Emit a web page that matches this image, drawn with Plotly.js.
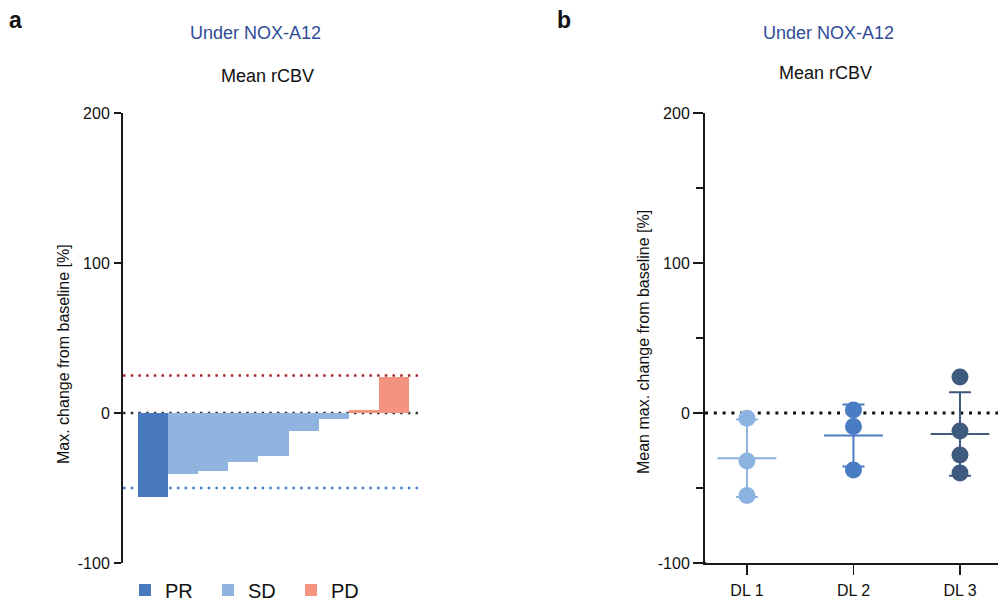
<!DOCTYPE html>
<html>
<head>
<meta charset="utf-8">
<script src="https://cdn.plot.ly/plotly-3.0.1.min.js"></script>
<style>
  html, body { margin: 0; padding: 0; background: #fff; }
  #chart { width: 998px; height: 605px; }
</style>
</head>
<body>
<div id="chart"></div>
<script>
// ---- Data: panel a (waterfall of max. change from baseline, %) ----
const barResponse = ['PR', 'SD', 'SD', 'SD', 'SD', 'SD', 'SD', 'PD', 'PD'];
const barValues = [-55.8, -40.7, -38.5, -32.4, -28.7, -12.0, -4.0, 2.2, 24.2];
const responseGroups = ['PR', 'SD', 'PD'];
const progressionThreshold = 25;
const responseThreshold = -50;

// ---- Data: panel b (per dose level) ----
const doseLevels = ['DL 1', 'DL 2', 'DL 3'];
const dl1Values = [-3.5, -32.0, -55.0];
const dl2Values = [2.0, -9.0, -38.0];
const dl3Values = [24.0, -12.0, -28.0, -40.0];

// ---- Tick labels ----
const yTickVals = [-100, 0, 100, 200];
const yTickText = ['-100', '0', '100', '200'];

// ---- Styles ----
const FONT = 'Liberation Sans, Arial, Helvetica, sans-serif';
const responseColors = { PR: '#4878BE', SD: '#8FB4E0', PD: '#F4937F' };
const doseColors = ['#8DB3E2', '#4A7CC4', '#3F5A7E'];
const W = 998, H = 605;
const px = v => v / W;
const py = v => 1 - v / H;

const traces = [];

// Panel a bars, one trace per response group
responseGroups.forEach(g => {
  const xs = [], ys = [];
  barResponse.forEach((r, i) => {
    if (r === g) { xs.push(i + 1); ys.push(barValues[i]); }
  });
  traces.push({
    type: 'bar', x: xs, y: ys, name: g,
    xaxis: 'x', yaxis: 'y',
    width: 1,
    marker: { color: responseColors[g], line: { width: 0 } },
    hoverinfo: 'x+y'
  });
});

// Panel b
const groups = [dl1Values, dl2Values, dl3Values];
const mean = a => a.reduce((s, v) => s + v, 0) / a.length;
const sd = a => { const m = mean(a); return Math.sqrt(a.reduce((s, v) => s + (v - m) * (v - m), 0) / (a.length - 1)); };

groups.forEach((vals, i) => {
  traces.push({
    type: 'scatter', mode: 'markers',
    x: [doseLevels[i]], y: [mean(vals)],
    xaxis: 'x2', yaxis: 'y2', showlegend: false,
    marker: { symbol: 'line-ew', size: 42, color: doseColors[i], line: { color: doseColors[i], width: 2 } },
    error_y: { type: 'data', array: [sd(vals)], visible: true, color: doseColors[i], thickness: 2, width: 11 },
    hoverinfo: 'y'
  });
});
groups.forEach((vals, i) => {
  traces.push({
    type: 'scatter', mode: 'markers',
    x: vals.map(() => doseLevels[i]), y: vals,
    xaxis: 'x2', yaxis: 'y2', showlegend: false,
    marker: { size: 17, color: doseColors[i] },
    hoverinfo: 'y'
  });
});

const yDomain = [1 - 563 / H, 1 - 113 / H];

function ann(text, x, y, size, color, extra) {
  return Object.assign({
    text, xref: 'paper', yref: 'paper', x: px(x), y: py(y),
    xanchor: 'center', yanchor: 'middle', showarrow: false,
    font: { family: FONT, size, color }
  }, extra || {});
}

const layout = {
  width: W, height: H,
  margin: { l: 0, r: 0, t: 0, b: 0, autoexpand: false },
  paper_bgcolor: '#ffffff', plot_bgcolor: 'rgba(0,0,0,0)',
  font: { family: FONT, size: 16, color: '#111' },
  bargap: 0,
  showlegend: true,
  legend: {
    orientation: 'h', x: px(125), xanchor: 'left', y: py(590), yanchor: 'middle',
    font: { family: FONT, size: 20, color: '#111' },
    entrywidth: 38, entrywidthmode: 'pixels', itemclick: false, itemdoubleclick: false,
    traceorder: 'normal'
  },
  xaxis: {
    domain: [px(123), px(418)], range: [0, 9.8],
    showline: false, showgrid: false, zeroline: false, showticklabels: false, ticks: '',
    fixedrange: true
  },
  yaxis: {
    domain: yDomain, range: [-100, 200],
    showline: true, linecolor: '#1a1a1a', linewidth: 2,
    ticks: 'outside', ticklen: 7, tickwidth: 1.5, tickcolor: '#1a1a1a',
    tickvals: yTickVals, ticktext: yTickText, ticklabelstandoff: 1,
    showgrid: false, zeroline: false,
    tickfont: { family: FONT, size: 16, color: '#111' },
    fixedrange: true
  },
  xaxis2: {
    domain: [px(705), 1], type: 'category', categoryorder: 'array', categoryarray: doseLevels,
    range: [-0.394, 2.357],
    showline: true, linecolor: '#1a1a1a', linewidth: 2,
    ticks: 'outside', ticklen: 10, tickwidth: 1.5, tickcolor: '#1a1a1a',
    ticklabelstandoff: 2,
    showgrid: false, zeroline: false,
    tickfont: { family: FONT, size: 16, color: '#111' },
    anchor: 'y2', fixedrange: true
  },
  yaxis2: {
    domain: yDomain, range: [-100, 200], anchor: 'x2',
    showline: true, linecolor: '#1a1a1a', linewidth: 2,
    ticks: 'outside', ticklen: 10, tickwidth: 1.5, tickcolor: '#1a1a1a',
    tickvals: yTickVals, ticktext: yTickText, ticklabelstandoff: 0,
    minor: { ticks: 'outside', ticklen: 7, tickwidth: 1.5, tickcolor: '#1a1a1a', dtick: 50, tick0: 0 },
    showgrid: false, zeroline: false,
    tickfont: { family: FONT, size: 16, color: '#111' },
    fixedrange: true
  },
  shapes: [
    { type: 'line', xref: 'x domain', yref: 'y', x0: 0, x1: 1, y0: 0, y1: 0, layer: 'below',
      line: { color: '#333', width: 2.5, dash: '2.5px,5.2px' } },
    { type: 'line', xref: 'x domain', yref: 'y', x0: 0, x1: 1, y0: progressionThreshold, y1: progressionThreshold,
      line: { color: '#A3282C', width: 2.5, dash: '2.5px,5.2px' } },
    { type: 'line', xref: 'x domain', yref: 'y', x0: 0, x1: 1, y0: responseThreshold, y1: responseThreshold,
      line: { color: '#4A7CC4', width: 2.5, dash: '2.5px,5.2px' } },
    { type: 'line', xref: 'x2 domain', yref: 'y2', x0: 0, x1: 1, y0: 0, y1: 0, layer: 'below',
      line: { color: '#111', width: 3, dash: '3px,5.8px' } },
    { type: 'line', xref: 'paper', yref: 'y2', x0: px(693), x1: px(706), y0: -100, y1: -100,
      line: { color: '#1a1a1a', width: 2 } }
  ],
  annotations: [
    ann('<b>a</b>', 15, 20, 23, '#111'),
    ann('<b>b</b>', 564, 20, 23, '#111'),
    ann('Under NOX-A12', 256, 33, 18, '#2F4C96'),
    ann('Mean rCBV', 267, 76, 18, '#111'),
    ann('Under NOX-A12', 828, 33, 18, '#2F4C96'),
    ann('Mean rCBV', 825, 73, 18, '#111'),
    ann('Max. change from baseline [%]', 63, 354, 16, '#111', { textangle: -90 }),
    ann('Mean max. change from baseline [%]', 643, 342, 16, '#111', { textangle: -90 })
  ]
};

Plotly.newPlot('chart', traces, layout, { displayModeBar: false, staticPlot: true });
</script>
</body>
</html>
